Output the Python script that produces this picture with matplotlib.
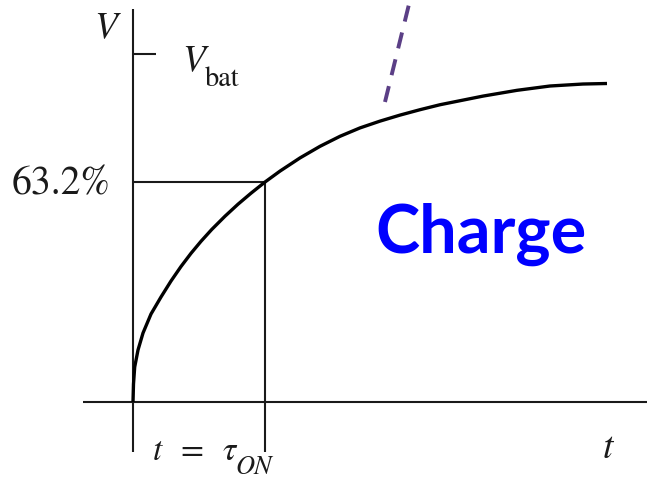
import matplotlib
matplotlib.use("Agg")
import matplotlib.pyplot as plt

# RC charging curve, normalised to the battery voltage (V_bat = 1)
t_curve = [0.0, 0.0038, 0.0129, 0.0379, 0.0758, 0.1364, 0.2121, 0.2879, 0.3636,
           0.4394, 0.5152, 0.5962, 0.6970, 0.7955, 0.8939, 1.0, 1.1136, 1.2652,
           1.4167, 1.5682, 1.7197, 1.8712, 2.0227, 2.1742, 2.3258, 2.6515,
           2.9091, 3.1591, 3.4091, 3.5909]
v_curve = [0.0, 0.0517, 0.1006, 0.1494, 0.1982, 0.2528, 0.3017, 0.3476, 0.3893,
           0.4272, 0.4617, 0.4956, 0.5338, 0.5683, 0.5999, 0.632, 0.6634, 0.7013,
           0.7346, 0.7634, 0.7875, 0.8070, 0.8243, 0.8398, 0.8541, 0.8789,
           0.8955, 0.9079, 0.9136, 0.9151]

tau_on = 1.0          # time constant
v_tau = 0.632         # 63.2 % of V_bat reached at t = tau
v_bat = 1.0

# dashed purple guide stroke
t_dash = [1.909, 2.091]
v_dash = [0.862, 1.143]

# axis extents
t_axis = [-0.379, 3.894]
v_axis = [-0.145, 1.129]

fig = plt.figure(figsize=(6.47, 4.79), dpi=100)
ax = fig.add_axes([0, 0, 1, 1])
ax.set_xlim(-1.0076, 3.894)
ax.set_ylim(-0.2212, 1.155)
ax.axis("off")

ink = "#1a1a1a"
axis_lw = 1.5

# axes
ax.plot(t_axis, [0, 0], color=ink, lw=axis_lw, solid_capstyle="butt")
ax.plot([0, 0], v_axis, color=ink, lw=axis_lw, solid_capstyle="butt")

# V_bat tick
ax.plot([0, 0.174], [v_bat, v_bat], color=ink, lw=axis_lw, solid_capstyle="butt")

# 63.2 % guide lines
ax.plot([0, tau_on], [v_tau, v_tau], color=ink, lw=axis_lw, solid_capstyle="butt")
ax.plot([tau_on, tau_on], [v_axis[0], v_tau], color=ink, lw=axis_lw, solid_capstyle="butt")

# charging curve
ax.plot(t_curve, v_curve, color="black", lw=2.4, solid_joinstyle="round",
        solid_capstyle="butt")

# dashed stroke
ax.plot(t_dash, v_dash, color="#5b3f86", lw=2.8, dashes=(4.2, 2.9),
        dash_capstyle="butt")

serif = "STIXGeneral"

ax.text(-0.205, 1.049, "V", family=serif, style="italic", fontsize=27,
        color=ink, ha="center", va="baseline")
ax.text(0.371, 0.954, "V", family=serif, style="italic", fontsize=27,
        color=ink, ha="left", va="baseline")
ax.text(0.545, 0.908, "bat", family=serif, fontsize=20.5,
        color=ink, ha="left", va="baseline")
ax.text(-0.174, 0.595, "63.2%", family=serif, fontsize=28.5,
        color=ink, ha="right", va="baseline")
ax.text(3.555, -0.161, "t", family=serif, style="italic", fontsize=27,
        color=ink, ha="left", va="baseline")

# t = tau_ON label
ax.text(0.152, -0.167, "t", family=serif, style="italic", fontsize=24,
        color=ink, ha="left", va="baseline")
ax.text(0.356, -0.167, "=", family=serif, fontsize=24,
        color=ink, ha="left", va="baseline")
ax.text(0.680, -0.167, "τ", family=serif, style="italic", fontsize=24,
        color=ink, ha="left", va="baseline")
ax.text(0.773, -0.207, "ON", family=serif, style="italic", fontsize=19,
        color=ink, ha="left", va="baseline")

ax.text(1.833, 0.428, "Charge", family="Lato", weight="bold", fontsize=48,
        color="#0000ff", ha="left", va="baseline")

fig.savefig("out.png", dpi=100)
